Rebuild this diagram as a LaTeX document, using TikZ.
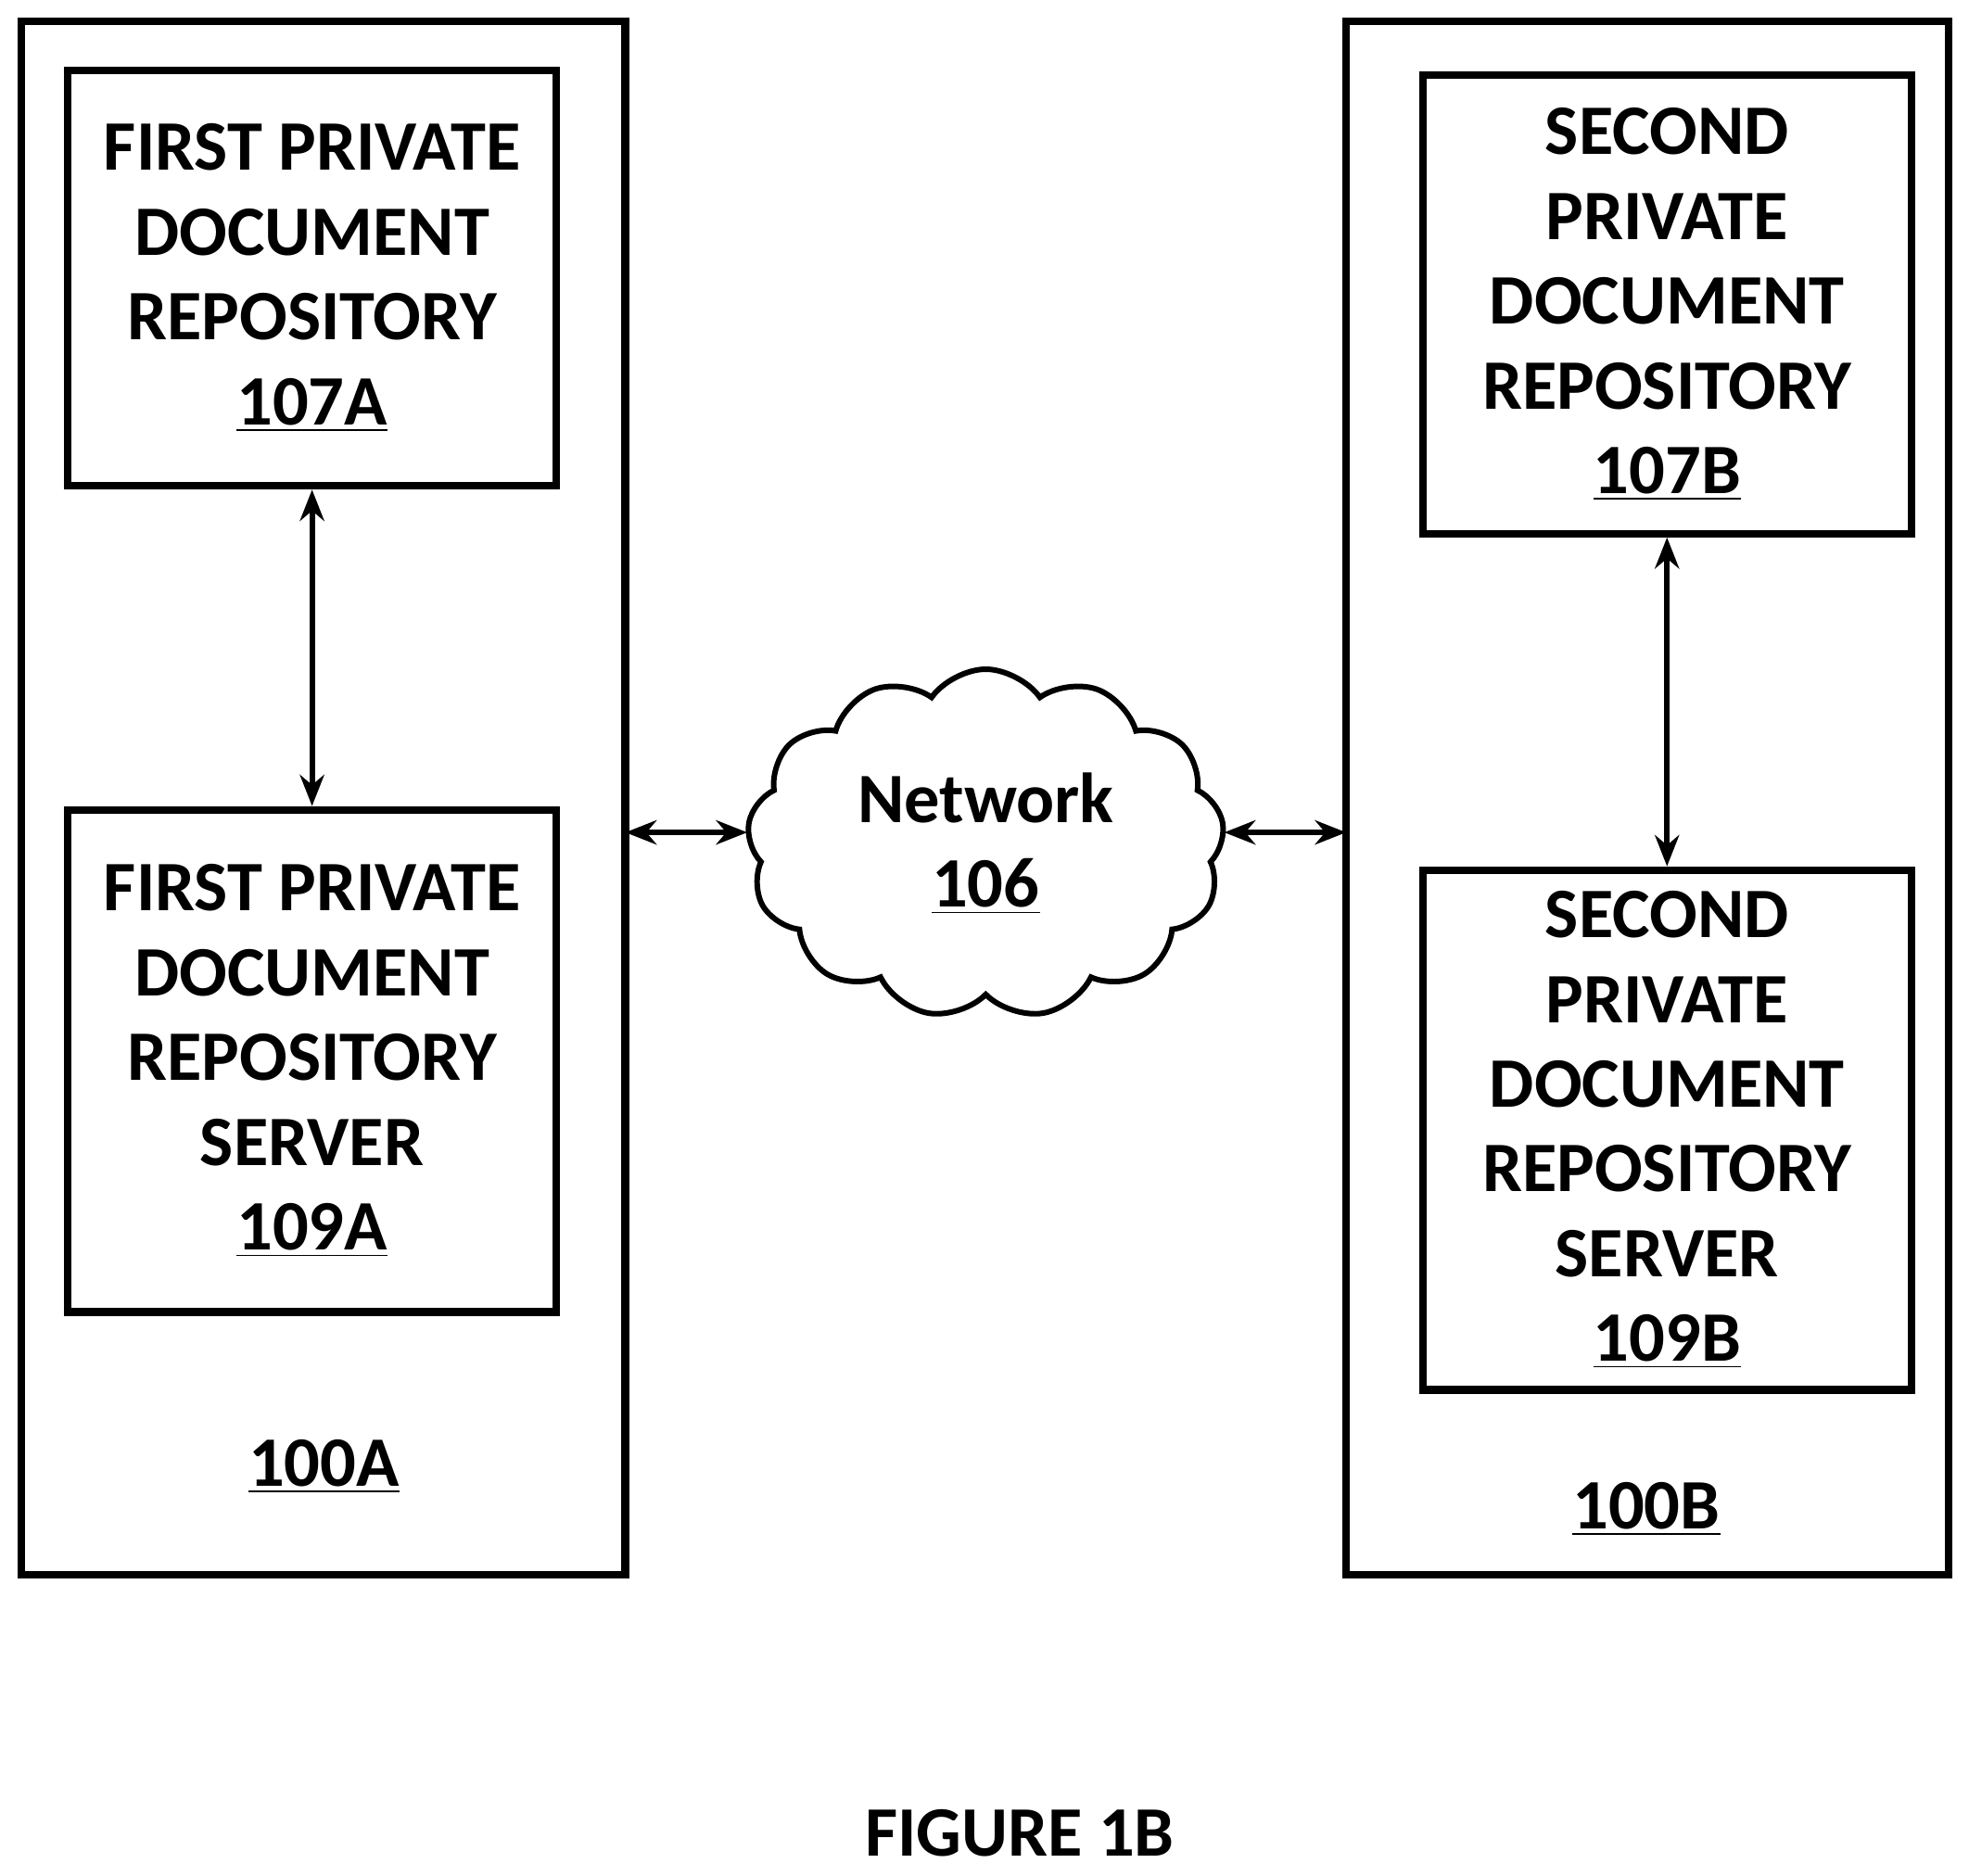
\documentclass[tikz,border=0pt]{standalone}
\usepackage{fontspec}
\setmainfont{Carlito}
\usetikzlibrary{arrows.meta}
\usetikzlibrary{shapes.symbols}

\tikzset{
	box/.style={draw, line width=2.2pt},
	lbl/.style={font=\fontsize{20.5}{24.5}\selectfont\bfseries, align=center},
	link/.style={{Stealth[length=9pt,width=7pt]}-{Stealth[length=9pt,width=7pt]}, line width=1.6pt}
}

\begin{document}
\begin{tikzpicture}[x=0.01276cm, y=-0.01276cm]
	
	\useasboundingbox (0,0) rectangle (1568,1494);
	
	% Outer systems
	\draw [box] (17,17) rectangle (498,1254);
	\draw [box] (1072,17) rectangle (1552,1254);
	\node [lbl] (sysA) at (258,1168) {\underline{100A}};
	\node [lbl] (sysB) at (1311,1202) {\underline{100B}};
	
	% Left side
	\node [box, lbl, minimum width=389*0.01276cm, minimum height=331*0.01276cm] (repoA) at (248.5,221.5)
		{FIRST PRIVATE\\DOCUMENT\\REPOSITORY\\\underline{107A}};
	\node [box, lbl, minimum width=389*0.01276cm, minimum height=400*0.01276cm] (servA) at (248.5,845)
		{FIRST PRIVATE\\DOCUMENT\\REPOSITORY\\SERVER\\\underline{109A}};
	
	% Right side
	\node [box, lbl, minimum width=389*0.01276cm, minimum height=365*0.01276cm] (repoB) at (1327.5,242.5)
		{SECOND\\PRIVATE\\DOCUMENT\\REPOSITORY\\\underline{107B}};
	\node [box, lbl, minimum width=389*0.01276cm, minimum height=414*0.01276cm] (servB) at (1327.5,900)
		{SECOND\\PRIVATE\\DOCUMENT\\REPOSITORY\\SERVER\\\underline{109B}};
	
	% Network
	\node [cloud, draw, line width=1.6pt, cloud puffs=13, cloud puff arc=110, aspect=1.35,
		minimum width=380*0.01276cm, minimum height=278*0.01276cm, lbl] (net) at (785,672)
		{Network\\\underline{106}};
	
	% Arrows
	\draw [link] (repoA.south) -- (servA.north);
	\draw [link] (repoB.south) -- (servB.north);
	\draw [link] (498,663) coordinate (pA) -- (net.west |- 0,663);
	\draw [link] (net.east |- 0,663) -- (1072,663) coordinate (pB);
	
	\node [lbl] (fig) at (812,1460) {FIGURE 1B};
	
\end{tikzpicture}
\end{document}
